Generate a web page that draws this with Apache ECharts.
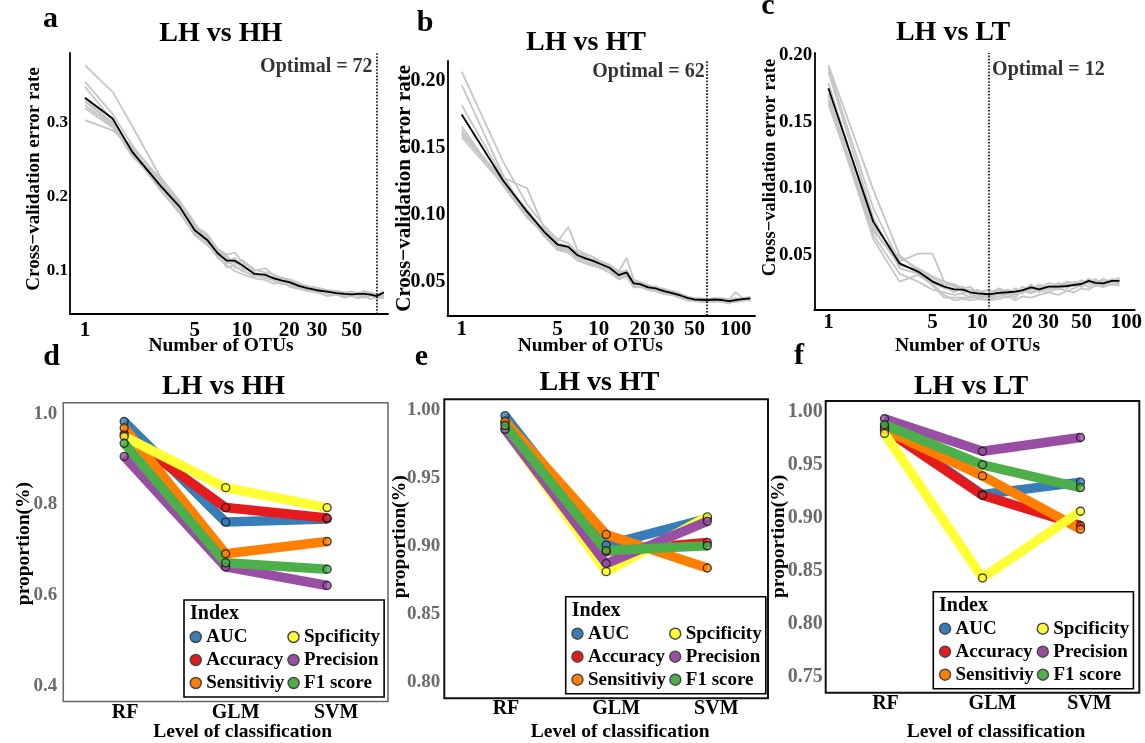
<!DOCTYPE html>
<html><head><meta charset="utf-8">
<script src="https://cdn.jsdelivr.net/npm/echarts@6/dist/echarts.min.js"></script>
<style>html,body{margin:0;padding:0;background:#fff}#c{width:1145px;height:743px}</style>
</head><body><div id="c"></div>
<script>
// ---------------- DATA ----------------
const OTU_A = [1,1.5,2,3,4,5,6,7,8,9,10,12,14,16,18,20,23,26,30,35,40,45,50,55,60,66,72,80];
const CV_A_MEAN = [0.334,0.306,0.261,0.216,0.187,0.155,0.142,0.124,0.114,0.114,0.108,0.096,0.095,0.090,0.087,0.085,0.080,0.077,0.074,0.072,0.070,0.069,0.0685,0.069,0.069,0.068,0.066,0.071];
const CV_A_REPS = [
 [0.378,0.342,0.296,0.228,0.195,0.165,0.140,0.128,0.118,0.112,0.105,0.098,0.092,0.088,0.086,0.083,0.078,0.075,0.073,0.070,0.068,0.070,0.066,0.068,0.065,0.070,0.067,0.072],
 [0.356,0.312,0.270,0.222,0.193,0.160,0.150,0.130,0.122,0.125,0.112,0.100,0.104,0.094,0.091,0.088,0.082,0.080,0.076,0.071,0.072,0.068,0.070,0.066,0.071,0.069,0.064,0.068],
 [0.349,0.303,0.263,0.220,0.182,0.150,0.138,0.118,0.108,0.100,0.096,0.090,0.088,0.083,0.085,0.079,0.076,0.073,0.071,0.066,0.068,0.064,0.066,0.063,0.066,0.062,0.065,0.063],
 [0.333,0.300,0.258,0.212,0.190,0.158,0.145,0.128,0.120,0.110,0.115,0.102,0.098,0.095,0.090,0.089,0.084,0.079,0.078,0.074,0.073,0.071,0.072,0.070,0.073,0.070,0.069,0.070],
 [0.329,0.298,0.265,0.215,0.180,0.148,0.135,0.122,0.105,0.108,0.100,0.094,0.091,0.087,0.082,0.083,0.077,0.076,0.072,0.073,0.069,0.067,0.069,0.070,0.067,0.066,0.068,0.066],
 [0.324,0.296,0.255,0.218,0.192,0.162,0.148,0.125,0.112,0.118,0.105,0.098,0.093,0.091,0.088,0.084,0.081,0.078,0.075,0.070,0.071,0.070,0.067,0.068,0.070,0.067,0.066,0.069],
 [0.320,0.294,0.262,0.210,0.178,0.152,0.140,0.120,0.116,0.105,0.102,0.092,0.094,0.089,0.086,0.080,0.079,0.074,0.073,0.069,0.070,0.066,0.068,0.067,0.064,0.068,0.063,0.065],
 [0.304,0.290,0.268,0.225,0.188,0.157,0.143,0.126,0.110,0.113,0.106,0.097,0.090,0.092,0.089,0.086,0.080,0.077,0.074,0.072,0.068,0.069,0.067,0.071,0.068,0.071,0.067,0.073]
];
const OPTIMAL_A = 72;

const OTU_B = [1,2,3,4,5,6,7,8,9,10,12,14,16,18,20,23,26,30,35,40,45,50,56,62,70,80,90,100,112,128];
const CV_B_MEAN = [0.175,0.126,0.1025,0.0875,0.078,0.0763,0.070,0.0677,0.066,0.064,0.0607,0.0552,0.0572,0.049,0.0485,0.046,0.0453,0.0433,0.0416,0.0398,0.038,0.037,0.0368,0.0366,0.037,0.0366,0.0358,0.0366,0.0372,0.0378];
const CV_B_REPS = [
 [0.207,0.140,0.108,0.092,0.082,0.079,0.072,0.070,0.066,0.065,0.062,0.056,0.058,0.050,0.049,0.045,0.047,0.043,0.042,0.040,0.038,0.037,0.036,0.036,0.037,0.035,0.036,0.035,0.037,0.036],
 [0.197,0.130,0.100,0.085,0.075,0.073,0.068,0.064,0.064,0.062,0.059,0.053,0.055,0.047,0.047,0.044,0.043,0.041,0.040,0.038,0.036,0.036,0.035,0.035,0.036,0.035,0.034,0.036,0.036,0.037],
 [0.182,0.128,0.120,0.090,0.080,0.091,0.074,0.071,0.069,0.066,0.063,0.058,0.068,0.052,0.050,0.048,0.046,0.044,0.043,0.041,0.039,0.038,0.037,0.036,0.038,0.037,0.036,0.038,0.037,0.038],
 [0.166,0.122,0.098,0.086,0.076,0.074,0.069,0.066,0.063,0.063,0.060,0.054,0.056,0.048,0.048,0.046,0.045,0.042,0.041,0.039,0.037,0.036,0.037,0.036,0.035,0.036,0.035,0.035,0.036,0.038],
 [0.163,0.125,0.104,0.088,0.079,0.077,0.071,0.069,0.067,0.066,0.062,0.058,0.055,0.051,0.050,0.047,0.046,0.045,0.043,0.041,0.039,0.038,0.038,0.037,0.038,0.038,0.037,0.0425,0.038,0.039],
 [0.161,0.124,0.101,0.084,0.074,0.072,0.066,0.064,0.062,0.061,0.057,0.052,0.054,0.046,0.046,0.045,0.044,0.042,0.040,0.038,0.037,0.036,0.036,0.035,0.036,0.036,0.035,0.036,0.036,0.037],
 [0.160,0.127,0.103,0.089,0.078,0.076,0.072,0.067,0.066,0.064,0.061,0.057,0.059,0.050,0.049,0.047,0.046,0.044,0.042,0.040,0.038,0.037,0.037,0.037,0.037,0.036,0.037,0.037,0.038,0.038],
 [0.158,0.123,0.099,0.087,0.077,0.075,0.070,0.068,0.065,0.063,0.061,0.055,0.057,0.049,0.048,0.046,0.045,0.043,0.041,0.039,0.038,0.037,0.036,0.036,0.036,0.037,0.035,0.036,0.037,0.037]
];
const OPTIMAL_B = 62;

const OTU_C = [1,2,3,4,5,6,7,8,9,10,12,14,16,18,20,23,26,30,35,40,45,50,56,62,70,80,90];
const CV_C_MEAN = [0.175,0.075,0.0437,0.0375,0.030,0.0262,0.0242,0.024,0.022,0.0212,0.0205,0.0215,0.022,0.0225,0.0235,0.0257,0.0242,0.0262,0.0262,0.0267,0.0275,0.0282,0.0305,0.029,0.0287,0.0305,0.0305];
const CV_C_REPS = [
 [0.1925,0.099,0.050,0.038,0.031,0.026,0.022,0.026,0.020,0.024,0.019,0.024,0.021,0.025,0.022,0.028,0.022,0.027,0.025,0.029,0.026,0.031,0.028,0.031,0.027,0.032,0.031],
 [0.190,0.085,0.045,0.051,0.051,0.030,0.028,0.025,0.026,0.022,0.024,0.020,0.023,0.020,0.026,0.024,0.028,0.024,0.028,0.025,0.030,0.027,0.032,0.028,0.031,0.029,0.033],
 [0.1875,0.078,0.040,0.036,0.027,0.018,0.018,0.018,0.018,0.018,0.018,0.021,0.018,0.021,0.023,0.022,0.025,0.026,0.024,0.027,0.028,0.026,0.030,0.029,0.032,0.030,0.028],
 [0.179,0.072,0.048,0.040,0.034,0.030,0.026,0.022,0.022,0.018,0.021,0.025,0.022,0.024,0.021,0.026,0.023,0.025,0.029,0.026,0.028,0.031,0.029,0.032,0.028,0.031,0.031],
 [0.171,0.065,0.036,0.030,0.024,0.022,0.020,0.021,0.018,0.021,0.017,0.019,0.021,0.018,0.024,0.021,0.024,0.022,0.025,0.023,0.025,0.028,0.026,0.029,0.026,0.030,0.029],
 [0.169,0.070,0.042,0.039,0.033,0.028,0.027,0.024,0.024,0.022,0.023,0.022,0.024,0.022,0.024,0.027,0.025,0.029,0.027,0.030,0.029,0.028,0.032,0.030,0.029,0.031,0.032],
 [0.166,0.062,0.030,0.035,0.028,0.020,0.016,0.017,0.016,0.017,0.016,0.017,0.019,0.016,0.019,0.018,0.020,0.022,0.020,0.023,0.022,0.025,0.024,0.027,0.026,0.028,0.027],
 [0.163,0.068,0.044,0.037,0.029,0.025,0.024,0.026,0.021,0.020,0.019,0.021,0.020,0.023,0.022,0.024,0.026,0.024,0.026,0.028,0.027,0.029,0.030,0.028,0.030,0.029,0.030]
];
const OPTIMAL_C = 12;

const XTICKS_A = [1,5,10,20,30,50];
const XTICKS_B = [1,5,10,20,30,50,100];
const XTICKS_C = [1,5,10,20,30,50,100];
const YTICKS_A = [0.1,0.2,0.3];
const YTICKS_B = [0.05,0.10,0.15,0.20];
const YTICKS_C = [0.05,0.10,0.15,0.20];

const CLASSIFIERS = ['RF','GLM','SVM'];
const INDICES = ['AUC','Accuracy','Sensitiviy','Spcificity','Precision','F1 score'];
const INDEX_COLORS = ['#377EB8','#E41A1C','#FF7F00','#FFFF33','#984EA3','#4DAF4A'];
// rows follow INDICES, columns follow CLASSIFIERS
const PERF_HH = [
 [0.983,0.761,0.768],
 [0.955,0.793,0.770],
 [0.969,0.691,0.718],
 [0.950,0.837,0.793],
 [0.906,0.662,0.621],
 [0.935,0.671,0.657]
];
const PERF_HT = [
 [0.9957,0.9005,0.920],
 [0.990,0.896,0.9025],
 [0.9916,0.9084,0.8837],
 [0.986,0.881,0.9213],
 [0.9855,0.887,0.918],
 [0.9884,0.8965,0.900]
];
const PERF_LT = [
 [0.986,0.9217,0.9334],
 [0.9836,0.921,0.8925],
 [0.983,0.9393,0.889],
 [0.9793,0.843,0.906],
 [0.9932,0.9626,0.9756],
 [0.9876,0.9498,0.9282]
];
const YTICKS_D = [0.4,0.6,0.8,1.0];
const YTICKS_E = [0.80,0.85,0.90,0.95,1.00];
const YTICKS_F = [0.75,0.80,0.85,0.90,0.95,1.00];

const PANEL_TITLES = ['LH vs HH','LH vs HT','LH vs LT','LH vs HH','LH vs HT','LH vs LT'];
const PANEL_LETTERS = ['a','b','c','d','e','f'];

// ---------------- LAYOUT / STYLE ----------------
const SERIF = "'Liberation Serif','DejaVu Serif',serif";
const TOP = [
 {left:70, top:53, width:318, height:261, xMin:-0.0955, xMax:1.930, yMin:0.0419, yMax:0.3946, ySize:17, dec:1, xMargin:6, xNameGap:22, xNamePad:[0,16,0,0], yNameGap:26.5, yNameSize:19, yNamePad:[0,0,0,9], side:'left', optY:0.3757, dist:4},
 {left:447.5, top:61, width:307.5, height:254.7, xMin:-0.1036, xMax:2.141, yMin:0.0249, yMax:0.2149, ySize:20, dec:2, xMargin:3, xNameGap:20.5, xNamePad:[0,22,0,0], yNameGap:32, yNameSize:21, yNamePad:[0,0,0,0], side:'left', optY:0.2069, dist:2.5},
 {left:814.3, top:53, width:322.7, height:257, xMin:-0.0947, xMax:2.057, yMin:0.0087, yMax:0.2015, ySize:19, dec:2, xMargin:2, xNameGap:26, xNamePad:[0,14,0,0], yNameGap:34.8, yNameSize:18.5, yNamePad:[0,0,0,28], side:'right', optY:0.1887, dist:3}
];
const BOT = [
 {left:63.3, top:402.7, width:324.7, height:304, yMin:0.365, yMax:1.0245, dec:1, border:'#666', bw:1.5, ySize:19, yMargin:6, yNameGap:29, yNamePad:[0,0,0,17], xNameGap:20.5, xNamePad:[0,0,0,34], lgLeft:184, lgTop:600, idxX:190, idxY:614},
 {left:444.3, top:399.3, width:323.7, height:303.4, yMin:0.788, yMax:1.0077, dec:2, border:'#111', bw:2, ySize:19, yMargin:4, yNameGap:34.5, yNamePad:[0,0,0,24], xNameGap:23.8, xNamePad:[0,0,0,28], lgLeft:565.7, lgTop:596.7, idxX:571.7, idxY:610.5},
 {left:825.7, top:401, width:313.6, height:296.3, yMin:0.7346, yMax:1.01, dec:2, border:'#111', bw:2, ySize:20, yMargin:3, yNameGap:36.5, yNamePad:[0,0,0,21], xNameGap:29.2, xNamePad:[0,0,0,27], lgLeft:933.3, lgTop:591.7, idxX:939, idxY:605.5}
];
const LETTER_POS = [[50.5,19.5],[425,23],[768,6.5],[51.5,356.8],[421.5,357],[799,356]];
const TITLE_POS = [[220.8,34],[586,42.4],[953,33.2],[223.5,386.5],[599.5,382.4],[971,386.5]];

const topData = [
 {x:OTU_A, mean:CV_A_MEAN, reps:CV_A_REPS, opt:OPTIMAL_A, xt:XTICKS_A, yt:YTICKS_A},
 {x:OTU_B, mean:CV_B_MEAN, reps:CV_B_REPS, opt:OPTIMAL_B, xt:XTICKS_B, yt:YTICKS_B},
 {x:OTU_C, mean:CV_C_MEAN, reps:CV_C_REPS, opt:OPTIMAL_C, xt:XTICKS_C, yt:YTICKS_C}
];
const botData = [
 {perf:PERF_HH, yt:YTICKS_D},
 {perf:PERF_HT, yt:YTICKS_E},
 {perf:PERF_LT, yt:YTICKS_F}
];

const grid = [], xAxis = [], yAxis = [], series = [], legend = [], graphic = [];
const bold = (size, color) => ({fontFamily:SERIF, fontWeight:'bold', fontSize:size, color:color||'#000'});

topData.forEach((d, i) => {
  const L = TOP[i];
  grid.push({left:L.left, top:L.top, width:L.width, height:L.height});
  xAxis.push({type:'value', gridIndex:i, min:L.xMin, max:L.xMax, nameMoveOverlap:false,
    axisLine:{show:true, onZero:false, lineStyle:{color:'#000', width:1.8}},
    axisTick:{show:false}, splitLine:{show:false},
    axisLabel:Object.assign({customValues:d.xt.map(v=>Math.log10(v)), margin:L.xMargin,
      formatter:v=>String(Math.round(Math.pow(10,v)))}, bold(21)),
    name:'Number of OTUs', nameLocation:'middle', nameGap:L.xNameGap,
    nameTextStyle:Object.assign({padding:L.xNamePad}, bold(19.5))});
  yAxis.push({type:'value', gridIndex:i, min:L.yMin, max:L.yMax, nameMoveOverlap:false,
    axisLine:{show:true, onZero:false, lineStyle:{color:'#000', width:1.8}},
    axisTick:{show:false}, splitLine:{show:false},
    axisLabel:Object.assign({customValues:d.yt, margin:2, formatter:v=>v.toFixed(L.dec)}, bold(L.ySize)),
    name:'Cross\u2212validation error rate', nameLocation:'middle', nameGap:L.yNameGap,
    nameTextStyle:Object.assign({padding:L.yNamePad}, bold(L.yNameSize))});
  d.reps.forEach(rep => {
    series.push({type:'line', xAxisIndex:i, yAxisIndex:i, silent:true, showSymbol:false, z:2,
      data:d.x.map((x,k)=>[Math.log10(x), rep[k]]),
      lineStyle:{color:'#c6c6c6', width:1.8}, animation:false});
  });
  series.push({type:'line', xAxisIndex:i, yAxisIndex:i, silent:true, showSymbol:false, z:3,
    data:d.x.map((x,k)=>[Math.log10(x), d.mean[k]]),
    lineStyle:{color:'#000', width:1.8}, animation:false,
    markLine:{silent:true, symbol:['none','none'], label:{show:false}, animation:false,
      lineStyle:{color:'#000', type:'dotted', width:1.6}, data:[{xAxis:Math.log10(d.opt)}]}});
  series.push({type:'scatter', xAxisIndex:i, yAxisIndex:i, silent:true, symbolSize:0, z:4,
    data:[[Math.log10(d.opt), L.optY]], animation:false,
    label:Object.assign({show:true, position:L.side, distance:L.dist, formatter:'Optimal = '+d.opt}, bold(20))});
});

botData.forEach((d, j) => {
  const i = j + 3;
  const L = BOT[j];
  grid.push({left:L.left, top:L.top, width:L.width, height:L.height, show:true,
    borderColor:L.border, borderWidth:L.bw, backgroundColor:'transparent'});
  xAxis.push({type:'value', gridIndex:i, min:0.4, max:3.6, nameMoveOverlap:false,
    axisLine:{show:false, onZero:false}, axisTick:{show:false}, splitLine:{show:false},
    axisLabel:Object.assign({customValues:[1,2,3], margin:1,
      formatter:v=>'{c'+v+'|'+CLASSIFIERS[v-1]+'}',
      rich:{c1:Object.assign({padding:[0,0,0,2]},bold(20)), c2:Object.assign({padding:[0,0,0,20]},bold(20)), c3:Object.assign({padding:[0,0,0,18]},bold(20))}}, bold(20)),
    name:'Level of classification', nameLocation:'middle', nameGap:L.xNameGap,
    nameTextStyle:Object.assign({padding:L.xNamePad}, bold(19.5))});
  yAxis.push({type:'value', gridIndex:i, min:L.yMin, max:L.yMax, nameMoveOverlap:false,
    axisLine:{show:false, onZero:false}, axisTick:{show:false}, splitLine:{show:false},
    axisLabel:Object.assign({customValues:d.yt, margin:L.yMargin, formatter:v=>v.toFixed(L.dec)}, bold(L.ySize,'#6b6b6b')),
    name:'proportion(%)', nameLocation:'middle', nameGap:L.yNameGap,
    nameTextStyle:Object.assign({padding:L.yNamePad}, bold(19.5))});
  INDICES.forEach((nm, k) => {
    series.push({type:'line', name:nm, xAxisIndex:i, yAxisIndex:i, showSymbol:false, z:2, animation:false,
      data:CLASSIFIERS.map((c,m)=>[m+1, d.perf[k][m]]),
      itemStyle:{color:INDEX_COLORS[k]}, lineStyle:{color:INDEX_COLORS[k], width:9.5}});
  });
  INDICES.forEach((nm, k) => {
    series.push({type:'scatter', name:nm, xAxisIndex:i, yAxisIndex:i, z:5, animation:false,
      symbol:'circle', symbolSize:8,
      data:CLASSIFIERS.map((c,m)=>[m+1, d.perf[k][m]]),
      itemStyle:{color:INDEX_COLORS[k], borderColor:'#1a1a1a', borderWidth:1.4}});
  });
  legend.push({left:L.lgLeft, top:L.lgTop, orient:'horizontal', width:193, itemGap:3,
    padding:[27,2,4,5.5], borderColor:'#000', borderWidth:1.6, icon:'circle', itemWidth:11, itemHeight:11,
    selectedMode:false,
    data:['AUC','Spcificity','Accuracy','Precision','Sensitiviy','F1 score'],
    itemStyle:{borderColor:'#4a4a4a', borderWidth:1.5},
    textStyle:Object.assign({width:78, lineHeight:20}, bold(19))});
  graphic.push({type:'text', x:L.idxX, y:L.idxY, silent:true,
    style:{text:'Index', fill:'#000', font:'bold 20px '+SERIF, align:'left', verticalAlign:'middle', textAlign:'left', textVerticalAlign:'middle'}});
});

PANEL_LETTERS.forEach((t,k)=>{
  graphic.push({type:'text', x:LETTER_POS[k][0], y:LETTER_POS[k][1], silent:true,
    style:{text:t, fill:'#000', font:'bold 30px '+SERIF, align:'center', verticalAlign:'middle', textAlign:'center', textVerticalAlign:'middle'}});
});
PANEL_TITLES.forEach((t,k)=>{
  graphic.push({type:'text', x:TITLE_POS[k][0], y:TITLE_POS[k][1], silent:true,
    style:{text:t, fill:'#000', font:'bold 28px '+SERIF, align:'center', verticalAlign:'middle', textAlign:'center', textVerticalAlign:'middle'}});
});

const chart = echarts.init(document.getElementById('c'), null, {renderer:'canvas'});
chart.setOption({backgroundColor:'#fff', animation:false, grid, xAxis, yAxis, series, legend, graphic});
</script></body></html>
